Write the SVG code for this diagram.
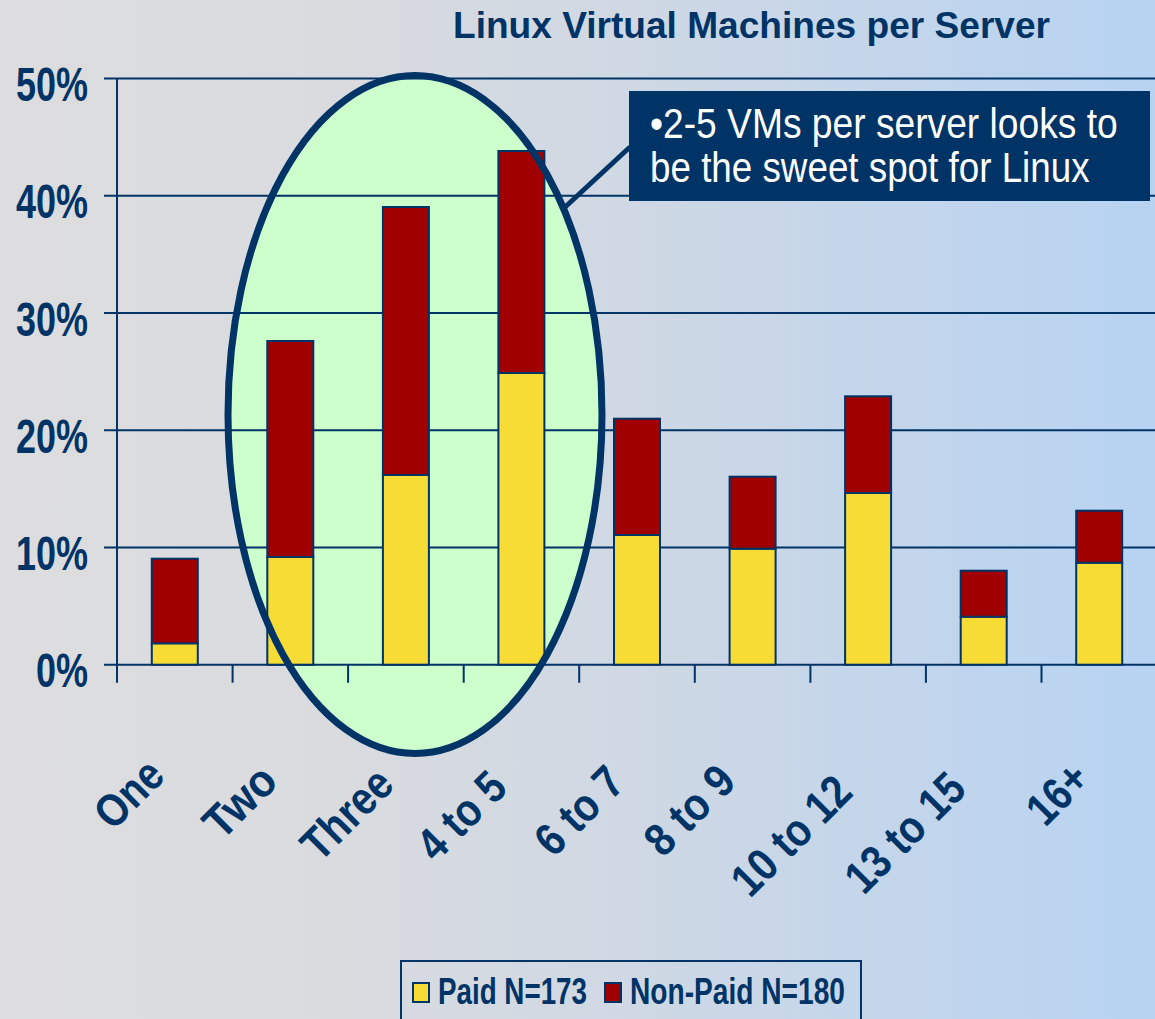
<svg xmlns="http://www.w3.org/2000/svg" width="1155" height="1019" viewBox="0 0 1155 1019">
<defs>
<linearGradient id="bg" x1="0" y1="0" x2="1" y2="0">
<stop offset="0" stop-color="#DDDDDF"/>
<stop offset="0.3" stop-color="#D9DBDF"/>
<stop offset="0.55" stop-color="#CFD8E4"/>
<stop offset="1" stop-color="#B7D3F2"/>
</linearGradient>
<style>
.t{font-family:"Liberation Sans",Arial,sans-serif;fill:#003366;font-weight:bold}
.grid{stroke:#003366;stroke-width:2;fill:none}
.paid{fill:#F7DC35;stroke:#003366;stroke-width:2}
.non{fill:#A00000;stroke:#003366;stroke-width:2}
.ylab{font-size:48px;text-anchor:end}
.xlab{font-size:46px;text-anchor:end}
.call{font-family:"Liberation Sans",Arial,sans-serif;fill:#FFFFFF;font-size:42px}
.leg{font-size:36px}
</style>
</defs>
<rect x="0" y="0" width="1155" height="1019" fill="url(#bg)"/>
<g id="highlight-fill">
<ellipse cx="415" cy="414.5" rx="187" ry="339" fill="#CCFFCC"/>
</g>
<g id="title">
<text class="t" x="453" y="38" font-size="36" textLength="597" lengthAdjust="spacingAndGlyphs">Linux Virtual Machines per Server</text>
</g>
<g id="axes">
<path class="grid" d="M104 78.5H1155M104 195.7H1155M104 313H1155M104 430.2H1155M104 547.5H1155M104 664.7H1155M117 78.5V682.7M232.6 664.7V682.7M348.1 664.7V682.7M463.7 664.7V682.7M579.2 664.7V682.7M694.8 664.7V682.7M810.4 664.7V682.7M925.9 664.7V682.7M1041.5 664.7V682.7"/>
<text class="t ylab" x="88" y="101" textLength="72" lengthAdjust="spacingAndGlyphs">50%</text>
<text class="t ylab" x="88" y="218.2" textLength="72" lengthAdjust="spacingAndGlyphs">40%</text>
<text class="t ylab" x="88" y="335.5" textLength="72" lengthAdjust="spacingAndGlyphs">30%</text>
<text class="t ylab" x="88" y="452.7" textLength="72" lengthAdjust="spacingAndGlyphs">20%</text>
<text class="t ylab" x="88" y="570" textLength="72" lengthAdjust="spacingAndGlyphs">10%</text>
<text class="t ylab" x="88" y="687.2" textLength="52" lengthAdjust="spacingAndGlyphs">0%</text>
</g>
<g id="bars">
<g id="bar-one"><rect class="paid" x="151.8" y="643.3" width="46" height="21.4"/><rect class="non" x="151.8" y="558.7" width="46" height="84.6"/></g>
<g id="bar-two"><rect class="paid" x="267.3" y="557" width="46" height="107.7"/><rect class="non" x="267.3" y="341" width="46" height="216"/></g>
<g id="bar-three"><rect class="paid" x="382.9" y="475" width="46" height="189.7"/><rect class="non" x="382.9" y="207" width="46" height="268"/></g>
<g id="bar-4to5"><rect class="paid" x="498.4" y="373" width="46" height="291.7"/><rect class="non" x="498.4" y="151" width="46" height="222"/></g>
<g id="bar-6to7"><rect class="paid" x="614" y="535" width="46" height="129.7"/><rect class="non" x="614" y="418.7" width="46" height="116.3"/></g>
<g id="bar-8to9"><rect class="paid" x="729.6" y="548.7" width="46" height="116"/><rect class="non" x="729.6" y="476.7" width="46" height="72"/></g>
<g id="bar-10to12"><rect class="paid" x="845.1" y="493" width="46" height="171.7"/><rect class="non" x="845.1" y="396.3" width="46" height="96.7"/></g>
<g id="bar-13to15"><rect class="paid" x="960.7" y="616.7" width="46" height="48"/><rect class="non" x="960.7" y="570.7" width="46" height="46"/></g>
<g id="bar-16plus"><rect class="paid" x="1076.2" y="562.7" width="46" height="102"/><rect class="non" x="1076.2" y="510.7" width="46" height="52"/></g>
</g>
<g id="highlight">
<ellipse cx="415" cy="414.5" rx="187" ry="339" fill="none" stroke="#003366" stroke-width="7"/>
</g>
<g id="connectors">
<line x1="630" y1="147" x2="563" y2="209" stroke="#003366" stroke-width="5"/>
</g>
<g id="callout">
<rect x="629" y="91" width="521" height="110" fill="#003366"/>
<text class="call" transform="translate(650,138) scale(0.886,1)">•2-5 VMs per server looks to</text>
<text class="call" transform="translate(650,181.5) scale(0.876,1)">be the sweet spot for Linux</text>
</g>
<g id="xlabels">
<text class="t xlab" transform="translate(166.8,778) rotate(-45)" textLength="76" lengthAdjust="spacingAndGlyphs">One</text>
<text class="t xlab" transform="translate(279.8,783.5) rotate(-45)" textLength="82" lengthAdjust="spacingAndGlyphs">Two</text>
<text class="t xlab" transform="translate(396,787) rotate(-45)" textLength="108" lengthAdjust="spacingAndGlyphs">Three</text>
<text class="t xlab" transform="translate(509.4,790) rotate(-45)" textLength="104" lengthAdjust="spacingAndGlyphs">4 to 5</text>
<text class="t xlab" transform="translate(627,785) rotate(-45)" textLength="104" lengthAdjust="spacingAndGlyphs">6 to 7</text>
<text class="t xlab" transform="translate(737.9,783.7) rotate(-45)" textLength="106" lengthAdjust="spacingAndGlyphs">8 to 9</text>
<text class="t xlab" transform="translate(854.7,794.4) rotate(-45)" textLength="148" lengthAdjust="spacingAndGlyphs">10 to 12</text>
<text class="t xlab" transform="translate(968.3,791.4) rotate(-45)" textLength="148" lengthAdjust="spacingAndGlyphs">13 to 15</text>
<text class="t xlab" transform="translate(1091.9,781.3) rotate(-45)" textLength="66" lengthAdjust="spacingAndGlyphs">16+</text>
</g>
<g id="legend">
<rect x="401" y="961" width="460" height="70" fill="none" stroke="#003366" stroke-width="2"/>
<rect class="paid" x="413" y="983" width="16" height="19"/>
<text class="t leg" x="438" y="1004" textLength="149" lengthAdjust="spacingAndGlyphs">Paid N=173</text>
<rect class="non" x="605" y="983" width="16" height="19"/>
<text class="t leg" x="630" y="1004" textLength="215" lengthAdjust="spacingAndGlyphs">Non-Paid N=180</text>
</g>
</svg>
